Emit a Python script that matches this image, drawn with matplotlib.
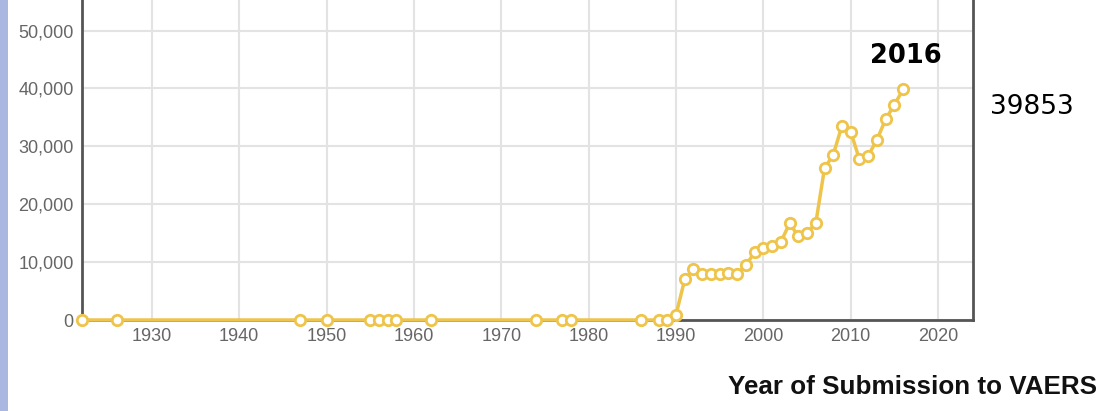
import matplotlib
matplotlib.use("Agg")
import matplotlib.pyplot as plt
from matplotlib.ticker import FuncFormatter
from matplotlib.patches import Rectangle

years = [1922, 1926, 1947, 1950, 1955, 1956, 1957, 1958, 1962, 1974, 1977, 1978,
         1986, 1988, 1989, 1990, 1991, 1992, 1993, 1994, 1995, 1996, 1997, 1998,
         1999, 2000, 2001, 2002, 2003, 2004, 2005, 2006, 2007, 2008, 2009, 2010,
         2011, 2012, 2013, 2014, 2015, 2016]
reports = [0, 0, 0, 0, 0, 0, 0, 0, 0, 0, 0, 0,
           0, 0, 0, 900, 7000, 8750, 7950, 7950, 8000, 8150, 8000, 9450,
           11700, 12500, 12800, 13450, 16700, 14500, 15100, 16700, 26200, 28550, 33550, 32500,
           27750, 28400, 31100, 34700, 37150, 39853]
x_ticks = [1930, 1940, 1950, 1960, 1970, 1980, 1990, 2000, 2010, 2020]
y_ticks = [0, 10000, 20000, 30000, 40000, 50000]
highlight_year = "2016"
highlight_value = "39853"
x_title = "Year of Submission to VAERS"

W, H = 1100, 411
fig = plt.figure(figsize=(W / 100, H / 100), dpi=100)
fig.patch.set_facecolor("white")

# left blue strip
fig.patches.append(Rectangle((0, 0), 8 / W, 1, transform=fig.transFigure,
                             facecolor="#aab8e1", edgecolor="none", zorder=0))

ax = fig.add_axes([82 / W, (H - 320) / H, (973 - 82) / W, 320 / H])
ax.set_facecolor("white")
ax.set_xlim(1922, 2024)
ax.set_ylim(0, 55270)

ax.grid(True, color="#e3e3e3", linewidth=1.5)
ax.set_axisbelow(True)

line_color = "#efc44a"
ax.plot(years, reports, color=line_color, linewidth=2.5, marker="o",
        markersize=7.5, markerfacecolor="white", markeredgecolor=line_color,
        markeredgewidth=2, clip_on=False, zorder=5)

ax.set_xticks(x_ticks)
ax.set_yticks(y_ticks)
ax.yaxis.set_major_formatter(FuncFormatter(lambda v, p: f"{int(v):,}"))
ax.tick_params(axis="both", length=0, labelsize=13, labelcolor="#666666",
               pad=6)
for lab in ax.get_xticklabels() + ax.get_yticklabels():
    lab.set_family("Liberation Sans")

for side in ["left", "right", "bottom"]:
    ax.spines[side].set_color("#555555")
    ax.spines[side].set_linewidth(2)
ax.spines["top"].set_visible(False)

fig.text(905.5 / W, 1 - 56 / H, highlight_year, ha="center", va="center",
         fontsize=18.5, fontweight="bold", family="DejaVu Sans", color="black")
fig.text(1032 / W, 1 - 107 / H, highlight_value, ha="center", va="center",
         fontsize=19, family="DejaVu Sans", color="black")
fig.text(1097 / W, 1 - 387 / H, x_title, ha="right", va="center",
         fontsize=18.7, fontweight="bold", family="Liberation Sans", color="#111111")

fig.savefig("out.png", dpi=100)
